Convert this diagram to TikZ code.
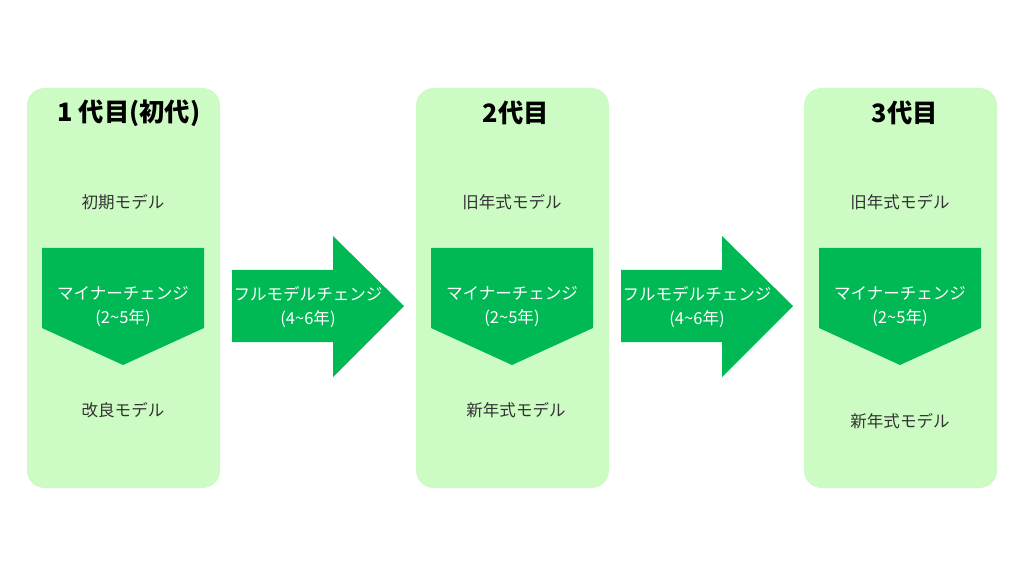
\documentclass[tikz,border=0pt]{standalone}
\usepackage{fontspec}
\setmainfont{Noto Sans CJK JP}
\usetikzlibrary{positioning}
\definecolor{panelgreen}{HTML}{CCFCC4}
\definecolor{arrowgreen}{HTML}{00B955}
\definecolor{textgray}{HTML}{333333}
\tikzset{
  panel/.style={fill=panelgreen, draw=none, rounded corners=5pt},
  titletext/.style={font=\fontsize{7.2}{8}\selectfont\bfseries, text=black},
  modeltext/.style={font=\fontsize{4.7}{5.5}\selectfont, text=textgray},
  arrowtext/.style={font=\fontsize{4.7}{6.8}\selectfont, text=white, align=center}
}
\begin{document}
\begin{tikzpicture}[x=0.01cm, y=-0.01cm]
        \useasboundingbox[fill=white] (0,0) rectangle (1024,576);
        % Generations
        \foreach \px/\name in {27/g1, 416/g2, 804/g3} {
          \fill[panel] (\px,88) rectangle ++(193,400);
          \fill[arrowgreen] (\px+15,248) -- ++(162,0) -- ++(0,80) -- ++(-81,37) -- ++(-81,-37) -- cycle;
          \node[arrowtext] (\name minor) at (\px+96,307) {マイナーチェンジ\\(2\textasciitilde5年)};
        }
        % Model changes
        \foreach \ax/\name in {232/c1, 621/c2} {
          \fill[arrowgreen] (\ax,270) -- ++(101,0) -- ++(0,-34) -- ++(71,70) -- ++(-71,71) -- ++(0,-35) -- ++(-101,0) -- cycle;
          \node[arrowtext] (\name) at (\ax+76,307) {フルモデルチェンジ\\(4\textasciitilde6年)};
        }
        % Titles
        \node[titletext] (t1) at (129,113) {1 代目(初代)};
        \node[titletext] (t2) at (516,113) {2代目};
        \node[titletext] (t3) at (905,113) {3代目};
        % Models
        \node[modeltext] (m1a) at (123,202) {初期モデル};
        \node[modeltext] (m1b) at (123,410) {改良モデル};
        \node[modeltext] (m2a) at (512,202) {旧年式モデル};
        \node[modeltext] (m2b) at (516,410) {新年式モデル};
        \node[modeltext] (m3a) at (900,202) {旧年式モデル};
        \node[modeltext] (m3b) at (900,421) {新年式モデル};
\end{tikzpicture}
\end{document}
